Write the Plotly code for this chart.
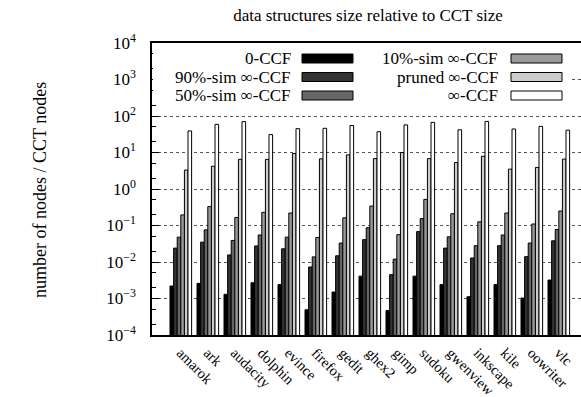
import plotly.graph_objects as go

# Programs profiled
programs = ["amarok", "ark", "audacity", "dolphin", "evince", "firefox", "gedit",
            "ghex2", "gimp", "sudoku", "gwenview", "inkscape", "kile", "oowriter", "vlc"]

# Size of each data structure relative to the CCT (number of nodes / CCT nodes)
ccf0 = [0.0022, 0.0026, 0.0013, 0.0027, 0.0024, 0.00049, 0.0015, 0.0041,
        0.00047, 0.0041, 0.0024, 0.00112, 0.0024, 0.00103, 0.0032]
sim90 = [0.024, 0.035, 0.0156, 0.0276, 0.023, 0.0073, 0.0148, 0.041,
         0.0045, 0.068, 0.024, 0.0129, 0.028, 0.014, 0.038]
sim50 = [0.048, 0.076, 0.039, 0.055, 0.048, 0.0138, 0.033, 0.087,
         0.012, 0.155, 0.049, 0.028, 0.055, 0.033, 0.078]
sim10 = [0.195, 0.33, 0.166, 0.23, 0.22, 0.047, 0.162, 0.34,
         0.056, 0.52, 0.21, 0.126, 0.22, 0.11, 0.25]
pruned = [3.3, 4.2, 6.5, 6.5, 9.4, 6.7, 8.6, 6.8,
          10.0, 6.8, 5.3, 7.9, 3.5, 3.9, 6.6]
inf_ccf = [39, 59, 70, 31, 45, 46, 55, 37,
           57, 67, 42, 71, 44, 52, 41]

series_names = ["0-CCF", "90%-sim ∞-CCF", "50%-sim ∞-CCF",
                "10%-sim ∞-CCF", "pruned ∞-CCF", "∞-CCF"]
series_values = [ccf0, sim90, sim50, sim10, pruned, inf_ccf]
series_colors = ["#000000", "#333333", "#666666", "#999999", "#cccccc", "#ffffff"]

# Log-axis decades and their labels
decades = [-4, -3, -2, -1, 0, 1, 2, 3, 4]
decade_labels = ["10<sup>%d</sup>" % d if d >= 0 else "10<sup>\u2212%d</sup>" % -d
                 for d in decades]

FONT = "Liberation Serif"
FS = 17

fig = go.Figure()
for name, vals, col in zip(series_names, series_values, series_colors):
    fig.add_trace(go.Bar(
        x=list(range(len(programs))), y=vals, name=name,
        marker=dict(color=col, line=dict(color="#000000", width=1)),
        showlegend=False,
    ))

W, H = 581, 397
ml, mr, mt, mb = 152, 0, 43, 62
pw, ph = W - ml - mr, H - mt - mb

fig.update_layout(
    width=W, height=H,
    margin=dict(l=ml, r=mr, t=mt, b=mb, pad=0, autoexpand=False),
    paper_bgcolor="white", plot_bgcolor="white",
    barmode="group", bargap=0.2, bargroupgap=0,
    font=dict(family=FONT, size=FS, color="#000000"),
    title=dict(text="data structures size relative to CCT size",
               x=368 / W, xanchor="center", y=1 - 15 / H, yanchor="middle",
               font=dict(family=FONT, size=FS)),
)

fig.update_xaxes(
    range=[-1.067, -1.067 + pw / 27.0], automargin=False,
    tickmode="array", tickvals=list(range(len(programs))), ticktext=programs,
    tickangle=45, ticks="", showgrid=False, zeroline=False,
    showline=True, linecolor="#000000", linewidth=1.5, mirror=True,
    ticklabelstandoff=2,
    tickfont=dict(family=FONT, size=14.5),
)

fig.update_yaxes(
    type="log", range=[-4, 4], automargin=False,
    tickmode="array", tickvals=[10.0 ** d for d in decades], ticktext=decade_labels,
    ticks="inside", ticklen=7, tickcolor="#000000", tickwidth=1,
    minor=dict(ticks="inside", ticklen=4, tickmode="array",
               tickvals=[m * 10.0 ** d for d in decades[:-1] for m in (2, 5)],
               tickcolor="#000000", showgrid=False),
    showgrid=True, gridcolor="#555555", griddash="dot", gridwidth=1,
    zeroline=False, showline=True, linecolor="#000000", linewidth=1.5, mirror=False,
    ticklabelstandoff=11,
    tickfont=dict(family=FONT, size=FS),
)


# Pixel helpers (paper coordinates are relative to the plotting area)
def px_x(x):
    return (x - ml) / pw


def px_y(y):
    return 1 - (y - mt) / ph


annotations = [dict(text="number of nodes / CCT nodes", xref="paper", yref="paper",
                    x=px_x(40), y=px_y(190), xanchor="center", yanchor="middle",
                    textangle=-90, showarrow=False, font=dict(family=FONT, size=18))]

# Key box in the upper part of the plot, gnuplot style (label then swatch)
shapes = [dict(type="rect", xref="paper", yref="paper",
               x0=px_x(153), x1=px_x(572), y0=px_y(104), y1=px_y(44.5),
               fillcolor="white", line=dict(width=0), layer="above")]
rows_y = [58.5, 77, 95.5]
cols = [(292.5, 302, 353), (500, 511, 562)]
for i, (name, col) in enumerate(zip(series_names, series_colors)):
    c = i // 3
    r = i % 3
    tx, bx0, bx1 = cols[c]
    cy = rows_y[r]
    annotations.append(dict(text=name, xref="paper", yref="paper",
                            x=px_x(tx), y=px_y(cy), xanchor="right", yanchor="middle",
                            showarrow=False, font=dict(family=FONT, size=FS)))
    shapes.append(dict(type="rect", xref="paper", yref="paper",
                       x0=px_x(bx0), x1=px_x(bx1), y0=px_y(cy + 4.5), y1=px_y(cy - 4.5),
                       fillcolor=col, line=dict(color="#000000", width=1), layer="above"))

fig.update_layout(shapes=shapes, annotations=annotations)

fig.write_html("out.html")
